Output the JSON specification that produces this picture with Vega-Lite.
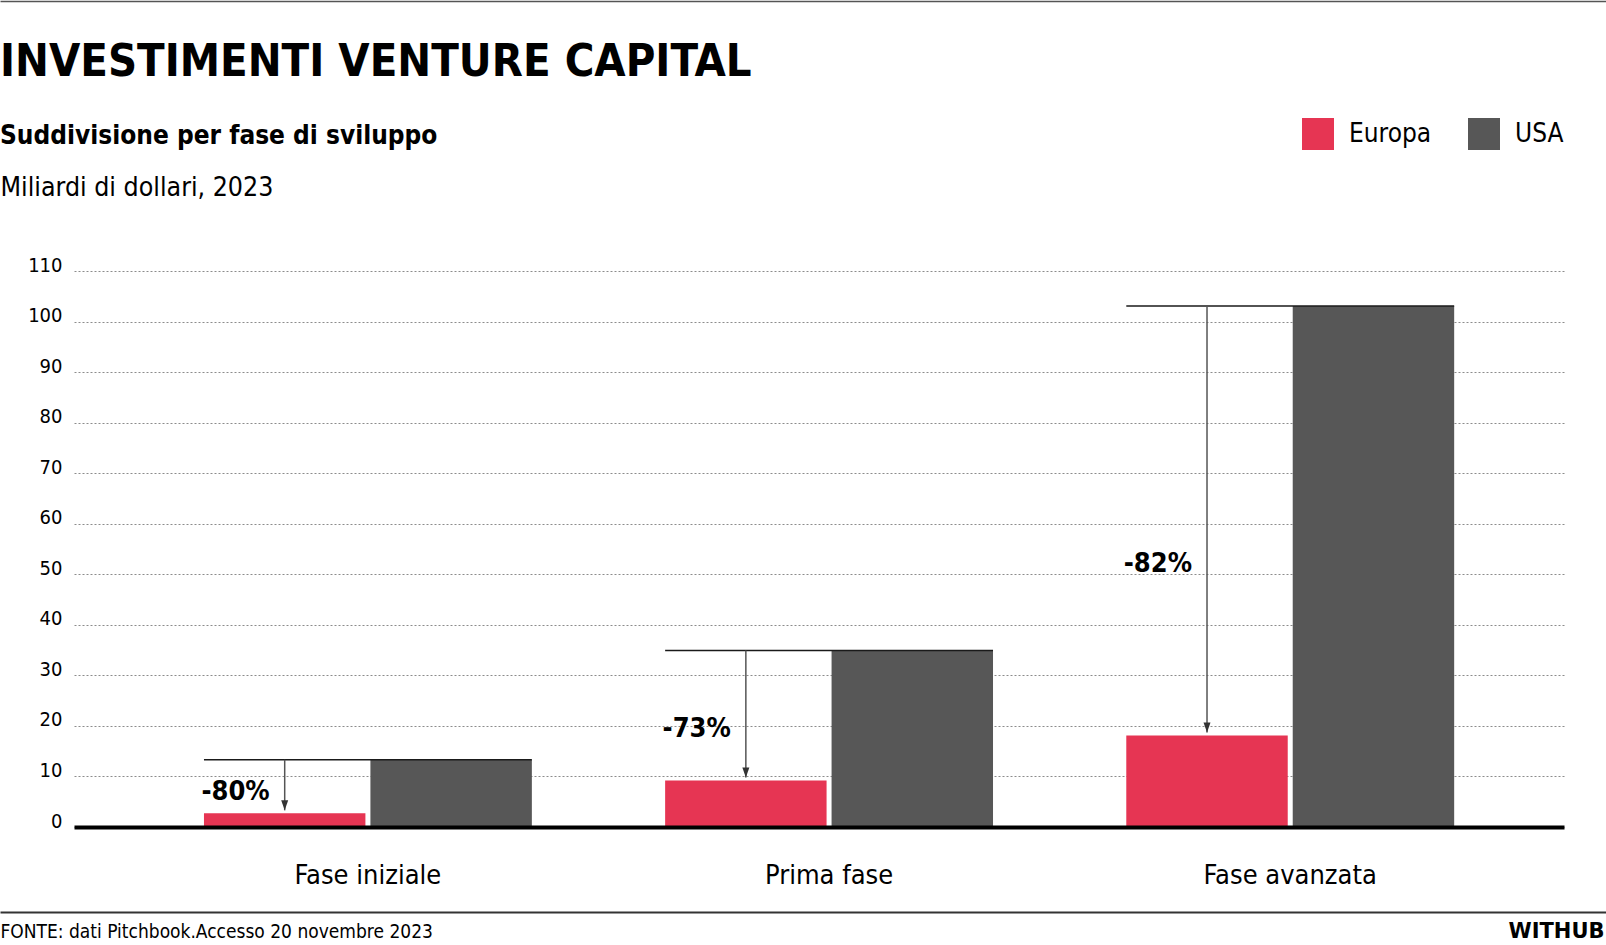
{
  "$schema": "https://vega.github.io/schema/vega-lite/v6.json",
  "description": "Investimenti venture capital, Europa vs USA, 2023",
  "width": 1490,
  "height": 556,
  "autosize": {"type": "none"},
  "padding": {"left": 74, "top": 271, "right": 42, "bottom": 118},
  "background": "white",
  "config": {
    "view": {"stroke": null},
    "font": "DejaVu Sans Condensed, sans-serif"
  },
  "title": {
    "text": "INVESTIMENTI VENTURE CAPITAL",
    "subtitle": "Suddivisione per fase di sviluppo",
    "anchor": "start",
    "frame": "group",
    "dx": -74,
    "dy": 149,
    "offset": 0,
    "font": "DejaVu Sans Condensed, sans-serif",
    "fontSize": 45,
    "fontWeight": "bold",
    "color": "black",
    "subtitleFont": "DejaVu Sans Condensed, sans-serif",
    "subtitleFontSize": 26,
    "subtitleFontWeight": "bold",
    "subtitleColor": "black",
    "subtitlePadding": 38
  },
  "data": {
    "values": [
      {"fase": "Fase iniziale", "Europa": 2.7, "USA": 13.3, "diff": "-80%"},
      {"fase": "Prima fase", "Europa": 9.2, "USA": 34.9, "diff": "-73%"},
      {"fase": "Fase avanzata", "Europa": 18.1, "USA": 103.1, "diff": "-82%"}
    ]
  },
  "layer": [
    {
      "transform": [{"fold": ["Europa", "USA"], "as": ["area", "valore"]}],
      "mark": {"type": "bar"},
      "encoding": {
        "x": {
          "field": "fase",
          "type": "nominal",
          "sort": null,
          "scale": {
            "domain": ["Fase iniziale", "Prima fase", "Fase avanzata"],
            "paddingInner": 0.289,
            "paddingOuter": 0.26,
            "align": 0.542
          },
          "axis": {
            "title": "FONTE: dati Pitchbook.Accesso 20 novembre 2023",
            "titleX": -74,
            "titleY": 110,
            "titleAlign": "left",
            "titleBaseline": "alphabetic",
            "titleFontSize": 19,
            "titleFontWeight": "normal",
            "titleColor": "black",
            "labelAngle": 0,
            "labelFontSize": 27,
            "labelColor": "black",
            "labelPadding": 56,
            "labelBaseline": "alphabetic",
            "labelLimit": 0,
            "ticks": false,
            "tickSize": 0,
            "domainColor": "black",
            "domainWidth": 4,
            "zindex": 1
          }
        },
        "xOffset": {"field": "area", "type": "nominal", "scale": {"paddingInner": 0.03}},
        "y": {
          "field": "valore",
          "type": "quantitative",
          "scale": {"domain": [0, 110], "nice": false},
          "axis": {
            "values": [0, 10, 20, 30, 40, 50, 60, 70, 80, 90, 100, 110],
            "title": "Miliardi di dollari, 2023",
            "titleX": -74,
            "titleY": -76,
            "titleAngle": 0,
            "titleAlign": "left",
            "titleBaseline": "alphabetic",
            "titleFontSize": 26.5,
            "titleFontWeight": "normal",
            "titleColor": "black",
            "domain": false,
            "ticks": false,
            "tickSize": 0,
            "labelPadding": 12,
            "labelFontSize": 20,
            "labelColor": "black",
            "labelBaseline": "alphabetic",
            "grid": true,
            "gridDash": [2, 2],
            "gridColor": "#8c8c8c",
            "gridWidth": 1
          }
        },
        "color": {
          "field": "area",
          "type": "nominal",
          "scale": {"domain": ["Europa", "USA"], "range": ["#E63553", "#575757"]},
          "legend": {
            "orient": "none",
            "legendX": 1228,
            "legendY": -153,
            "direction": "horizontal",
            "title": null,
            "padding": 0,
            "symbolType": "square",
            "symbolSize": 1024,
            "symbolStrokeWidth": 0,
            "symbolOpacity": 1,
            "labelFontSize": 26,
            "labelColor": "black",
            "labelOffset": 15,
            "columnPadding": 36
          }
        }
      }
    },
    {
      "mark": {"type": "rule", "color": "#1a1a1a", "strokeWidth": 1.5},
      "encoding": {
        "x": {"field": "fase", "type": "nominal", "sort": null, "bandPosition": 0},
        "x2": {"field": "fase", "bandPosition": 1},
        "y": {
          "field": "USA",
          "type": "quantitative",
          "axis": {
            "orient": "left",
            "offset": 74,
            "values": [110],
            "tickOffset": -270,
            "tickSize": -1606,
            "tickColor": "#555555",
            "tickWidth": 1.5,
            "labels": false,
            "domain": false,
            "grid": false,
            "title": null
          }
        }
      }
    },
    {
      "mark": {"type": "rule", "color": "#555555", "strokeWidth": 1.5, "y2Offset": -3},
      "encoding": {
        "x": {"field": "fase", "type": "nominal", "sort": null},
        "xOffset": {"datum": "Europa", "type": "nominal"},
        "y": {
          "field": "USA",
          "type": "quantitative",
          "axis": {
            "orient": "left",
            "offset": 74,
            "values": [0],
            "tickOffset": 85,
            "tickSize": -1606,
            "tickColor": "#333333",
            "tickWidth": 2,
            "labels": false,
            "domain": false,
            "grid": false,
            "title": "WITHUB",
            "titleX": 1604,
            "titleY": 666,
            "titleAngle": 0,
            "titleAlign": "right",
            "titleBaseline": "alphabetic",
            "titleFont": "DejaVu Sans",
            "titleFontSize": 21,
            "titleFontWeight": "bold",
            "titleColor": "black"
          }
        },
        "y2": {"field": "Europa"}
      }
    },
    {
      "mark": {
        "type": "point",
        "shape": "M-0.7,-2L0.7,-2L0,0Z",
        "filled": true,
        "opacity": 1,
        "size": 100,
        "color": "#333333",
        "yOffset": -3
      },
      "encoding": {
        "x": {"field": "fase", "type": "nominal", "sort": null},
        "xOffset": {"datum": "Europa", "type": "nominal"},
        "y": {"field": "Europa", "type": "quantitative", "axis": null}
      }
    },
    {
      "transform": [{"calculate": "datum.Europa + 0.4 * (datum.USA - datum.Europa)", "as": "pos_etichetta"}],
      "mark": {
        "type": "text",
        "align": "right",
        "baseline": "middle",
        "dx": -15,
        "fontSize": 27,
        "fontWeight": "bold",
        "color": "black"
      },
      "encoding": {
        "x": {"field": "fase", "type": "nominal", "sort": null},
        "xOffset": {"datum": "Europa", "type": "nominal"},
        "y": {"field": "pos_etichetta", "type": "quantitative", "axis": null},
        "text": {"field": "diff"}
      }
    }
  ],
  "resolve": {"axis": {"y": "independent"}}
}
